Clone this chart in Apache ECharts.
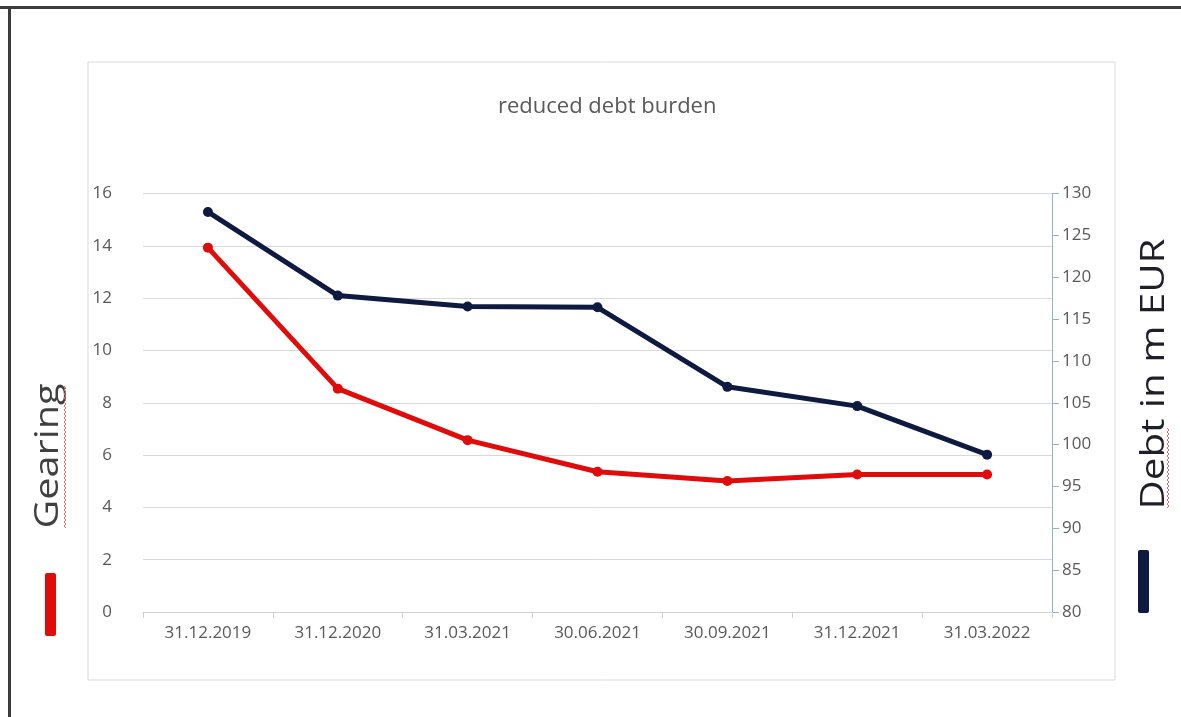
<!DOCTYPE html>
<html>
<head>
    <meta charset="utf-8">
    <title>reduced debt burden</title>
    <script src="https://cdn.jsdelivr.net/npm/echarts@6/dist/echarts.min.js"></script>
    <style>
      body { margin: 0; padding: 0; background: #fff; }
      #main { width: 1181px; height: 717px; }
    </style>
</head>
<body>
  <div id="main"></div>
  <script type="text/javascript">
    // data
    var dates = ['31.12.2019', '31.12.2020', '31.03.2021', '30.06.2021', '30.09.2021', '31.12.2021', '31.03.2022'];
    var gearing = [13.93, 8.54, 6.57, 5.36, 5.01, 5.26, 5.26];
    var debt = [127.8, 117.8, 116.5, 116.4, 106.9, 104.6, 98.8];

    var red = '#e00b0b';
    var navy = '#0e1a3f';
    var grey = '#595959';
    var font = 'Open Sans';

    // spell-check squiggle under the axis names
    function squiggle(x, y0, y1) {
      var pts = [];
      for (var y = y0, i = 0; y <= y1; y += 2, i++) {
        pts.push([x + (i % 2 ? 2 : 0), y]);
      }
      return { type: 'polyline', shape: { points: pts }, style: { stroke: '#d86a6a', lineWidth: 1, fill: 'none' }, silent: true };
    }

    var chart = echarts.init(document.getElementById('main'));

    var option = {
      animation: false,
      backgroundColor: '#fff',
      textStyle: { fontFamily: font },
      title: {
        text: 'reduced debt burden',
        left: 493,
        top: 91,
        textStyle: { fontFamily: font, fontSize: 22, fontWeight: 'normal', color: grey }
      },
      grid: { left: 143, right: 129, top: 193.5, bottom: 105 },
      xAxis: {
        type: 'category',
        data: dates,
        boundaryGap: true,
        axisLine: { lineStyle: { color: '#d0d0d0', width: 1 } },
        axisTick: { show: true, length: 6, lineStyle: { color: '#d0d0d0' } },
        axisLabel: { color: grey, fontSize: 17, margin: 13, fontFamily: font }
      },
      yAxis: [{
        type: 'value',
        min: 0, max: 16, interval: 2,
        axisLine: { show: false },
        axisTick: { show: false },
        axisLabel: { color: grey, fontSize: 17, margin: 31, fontFamily: font },
        splitLine: { lineStyle: { color: '#d9d9d9', width: 1 } }
      }, {
        type: 'value',
        min: 80, max: 130, interval: 5,
        position: 'right',
        axisLine: { show: true, lineStyle: { color: '#8fb4bd', width: 1 } },
        axisTick: { show: true, inside: false, length: 7, lineStyle: { color: '#8fb4bd' } },
        axisLabel: { color: grey, fontSize: 17, margin: 10, fontFamily: font },
        splitLine: { show: false }
      }],
      series: [{
        name: 'Gearing',
        type: 'line',
        yAxisIndex: 0,
        data: gearing,
        symbol: 'circle',
        symbolSize: 10,
        itemStyle: { color: red },
        lineStyle: { color: red, width: 5 },
        z: 3
      }, {
        name: 'Debt in m EUR',
        type: 'line',
        yAxisIndex: 1,
        data: debt,
        symbol: 'circle',
        symbolSize: 10,
        itemStyle: { color: navy },
        lineStyle: { color: navy, width: 5 },
        z: 4
      }],
      graphic: [
        // outer frame of the screenshot
        { type: 'rect', shape: { x: 0, y: 6, width: 1181, height: 3 }, style: { fill: '#3b3b3b' }, silent: true },
        { type: 'rect', shape: { x: 8, y: 6, width: 3, height: 711 }, style: { fill: '#3b3b3b' }, silent: true },
        // chart area border
        { type: 'rect', shape: { x: 88, y: 62, width: 1027, height: 618 }, style: { fill: 'none', stroke: '#d9d9d9', lineWidth: 1 }, silent: true },
        // axis legends
        { type: 'rect', shape: { x: 45, y: 573, width: 11, height: 63, r: 2 }, style: { fill: red }, silent: true },
        { type: 'text', x: 49, y: 456, rotation: Math.PI / 2, scaleX: 1.2,
          style: { text: 'Gearing', fill: '#404040', fontSize: 33, fontFamily: font, align: 'center', verticalAlign: 'middle' }, silent: true },
        squiggle(64, 386, 528),
        { type: 'rect', shape: { x: 1138, y: 550, width: 11, height: 63, r: 2 }, style: { fill: navy }, silent: true },
        { type: 'text', x: 1155, y: 374, rotation: Math.PI / 2, scaleX: 1.22,
          style: { text: 'Debt in m EUR', fill: '#1f1f2a', fontSize: 33, fontFamily: font, align: 'center', verticalAlign: 'middle' }, silent: true },
        squiggle(1167, 428, 508)
      ]
    };

    chart.setOption(option);
  </script>
</body>
</html>
